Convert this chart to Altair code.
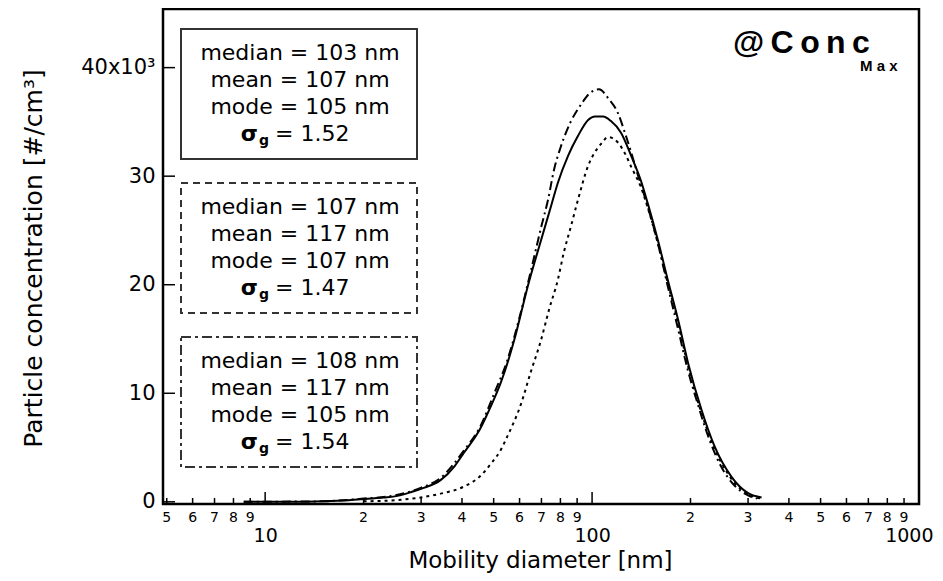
import altair as alt
import pandas as pd

# ---------------- data (concentration in 10^3 #/cm^3, diameter in nm) ----------------
solid_d = [8.6, 12, 15, 18, 20, 23, 25.4, 28, 30, 34.4, 38, 40.5, 45.6, 48, 50.2, 52.6,
           57.8, 63.5, 69.8, 75, 78.6, 84.5, 90.5, 97.4, 102, 108, 114, 122.6, 132, 141,
           148, 159, 170.6, 183.2, 196.6, 216, 237, 267, 300, 330]
solid_c = [0.0, 0.0, 0.05, 0.15, 0.25, 0.4, 0.55, 0.9, 1.2, 2.0, 3.3, 4.5, 6.8, 8.2, 9.5, 11.0,
           14.9, 19.8, 24.1, 27.3, 29.4, 31.9, 33.7, 35.2, 35.5, 35.5, 35.1, 34.0, 31.8, 29.6,
           27.5, 24.1, 20.4, 16.8, 12.8, 8.5, 5.1, 2.3, 0.8, 0.4]

dashdot_d = [8.6, 15, 20, 25, 30, 34.4, 40.5, 45.6, 50.2, 55, 60, 65, 70, 73.3, 76.5, 80, 86,
             92.5, 98, 105, 112.5, 120, 126, 132, 136.5, 148, 159, 170, 183, 196, 208.6, 230,
             248.7, 272.7, 300, 320]
dashdot_c = [0.0, 0.05, 0.3, 0.6, 1.3, 2.2, 4.7, 7.0, 10.0, 13.0, 17.0, 21.3, 25.4, 27.8, 30.6,
             32.6, 35.0, 36.6, 37.6, 38.0, 37.1, 35.8, 34.0, 32.1, 30.6, 27.2, 23.8, 20.0, 16.0,
             12.2, 9.4, 5.5, 3.2, 1.5, 0.6, 0.3]

dotted_d = [20, 25, 29.9, 35, 40.5, 45.6, 49, 52.6, 55, 60.6, 65, 69.8, 74, 78.5, 82, 86.2,
            90.5, 97.4, 101.5, 106.7, 112, 120, 126, 132, 141, 148, 159, 170.6, 183.2, 196.6,
            216, 237, 267, 300, 330]
dotted_c = [0.05, 0.15, 0.4, 0.8, 1.4, 2.4, 3.5, 4.8, 6.0, 9.0, 12.0, 14.9, 17.8, 20.4, 23.0,
            25.4, 27.8, 31.0, 32.1, 33.0, 33.6, 33.1, 32.1, 30.8, 29.0, 27.1, 23.8, 20.1, 16.5,
            12.5, 8.2, 4.9, 2.1, 0.7, 0.3]

box_median = [103, 107, 108]
box_mean = [107, 117, 117]
box_mode = [105, 107, 105]
box_sigma = ["1.52", "1.47", "1.54"]

x_major = [10, 100, 1000]
x_minor = [5, 6, 7, 8, 9, 20, 30, 40, 50, 60, 70, 80, 90,
           200, 300, 400, 500, 600, 700, 800, 900]
x_minor_labels = ["5", "6", "7", "8", "9", "2", "3", "4", "5", "6", "7", "8", "9",
                  "2", "3", "4", "5", "6", "7", "8", "9"]
y_major = [0, 10, 20, 30, 40]

# ---------------- layout ----------------
W, H = 756, 495
X_DOMAIN = [4.87, 1000]
Y_DOMAIN = [-0.2, 45.4]
FONT = "DejaVu Sans"

xscale = alt.Scale(type="log", domain=X_DOMAIN, nice=False)
yscale = alt.Scale(domain=Y_DOMAIN, nice=False, zero=False)

curves = pd.concat([
    pd.DataFrame({"d": solid_d, "c": solid_c, "s": "solid"}),
    pd.DataFrame({"d": dashdot_d, "c": dashdot_c, "s": "dashdot"}),
    pd.DataFrame({"d": dotted_d, "c": dotted_c, "s": "dotted"}),
])

x_axis = alt.Axis(values=x_major, format="d", ticks=False, domain=False, grid=False,
                  labelFont=FONT, labelFontSize=19, labelColor="black", labelPadding=22,
                  labelBaseline="top", labelFlush=1, labelFlushOffset=14, labelOverlap=False,
                  title="Mobility diameter [nm]", titleFont=FONT, titleFontSize=23,
                  titleFontWeight="normal", titleColor="black", titleX=377, titleY=63,
                  titleBaseline="alphabetic")
y_axis = alt.Axis(values=y_major, ticks=False, domain=False, grid=False,
                  labelExpr="datum.value == 40 ? '40x10³' : datum.label",
                  labelFont=FONT, labelFontSize=21, labelColor="black", labelPadding=8,
                  labelBaseline="middle",
                  title="Particle concentration [#/cm³]", titleFont=FONT, titleFontSize=25,
                  titleFontWeight="normal", titleColor="black", titleX=-130, titleY=249,
                  titleBaseline="middle")


def X(field):
    return alt.X(field, scale=xscale, axis=x_axis, title="Mobility diameter [nm]")


def Y(field):
    return alt.Y(field, scale=yscale, axis=y_axis, title="Particle concentration [#/cm³]")


styles = [("solid", None), ("dashdot", [9, 4, 2, 4]), ("dotted", [3, 4])]
layers = []
for name, dash in styles:
    kw = {"strokeDash": dash} if dash else {}
    layers.append(
        alt.Chart(curves).transform_filter(alt.datum.s == name)
        .mark_line(color="black", strokeWidth=2, interpolate="monotone", **kw)
        .encode(x=X("d:Q"), y=Y("c:Q"), order="d:Q")
    )

# inward ticks
layers.append(alt.Chart(pd.DataFrame({"d": x_major})).mark_rule(color="black", strokeWidth=1.5)
              .encode(x=X("d:Q"), y=alt.value(H), y2=alt.value(H - 12)))
layers.append(alt.Chart(pd.DataFrame({"d": x_minor})).mark_rule(color="black", strokeWidth=1.5)
              .encode(x=X("d:Q"), y=alt.value(H), y2=alt.value(H - 6)))
layers.append(alt.Chart(pd.DataFrame({"c": y_major})).mark_rule(color="black", strokeWidth=1.5)
              .encode(y=Y("c:Q"), x=alt.value(0), x2=alt.value(12)))
# minor tick labels
layers.append(alt.Chart(pd.DataFrame({"d": x_minor, "lab": x_minor_labels}))
              .mark_text(font=FONT, fontSize=14, color="black", baseline="middle", align="center")
              .encode(x=X("d:Q"), y=alt.value(H + 14), text="lab:N"))

one = alt.Data(values=[{"k": 0}])

# statistic boxes
BOX_L, BOX_R = 18, 254
BOX_TOPS = [20, 174, 328]
BOX_H = 130
BOX_DASH = [None, [7, 5], [10, 4, 3, 4]]
LINE_OFF = [24, 51, 78, 105]
TX = 137
for b in range(3):
    top = BOX_TOPS[b]
    kw = {"strokeDash": BOX_DASH[b]} if BOX_DASH[b] else {}
    layers.append(alt.Chart(one).mark_rect(fill=None, fillOpacity=0, stroke="#333333", strokeWidth=2, **kw)
                  .encode(x=alt.value(BOX_L), x2=alt.value(BOX_R), y=alt.value(top), y2=alt.value(top + BOX_H)))
    lines = [f"median = {box_median[b]} nm", f"mean = {box_mean[b]} nm", f"mode = {box_mode[b]} nm"]
    for j, t in enumerate(lines):
        layers.append(alt.Chart(one).mark_text(font=FONT, fontSize=22, color="black",
                                               align="center", baseline="middle")
                      .encode(x=alt.value(TX), y=alt.value(top + LINE_OFF[j]), text=alt.value(t)))
    ys = top + LINE_OFF[3]
    layers.append(alt.Chart(one).mark_text(font=FONT, fontSize=22, fontWeight="bold", color="black",
                                           align="right", baseline="middle")
                  .encode(x=alt.value(95), y=alt.value(ys), text=alt.value("σ")))
    layers.append(alt.Chart(one).mark_text(font=FONT, fontSize=14, fontWeight="bold", color="black",
                                           align="left", baseline="middle")
                  .encode(x=alt.value(96), y=alt.value(ys + 7), text=alt.value("g")))
    layers.append(alt.Chart(one).mark_text(font=FONT, fontSize=22, color="black",
                                           align="left", baseline="middle")
                  .encode(x=alt.value(112), y=alt.value(ys), text=alt.value(f"= {box_sigma[b]}")))

# @Conc_Max label
layers.append(alt.Chart(one).mark_text(font="Liberation Sans", fontSize=32, fontWeight="bold",
                                       color="black", align="left", baseline="middle")
              .encode(x=alt.value(570), y=alt.value(34), text=alt.value("@\u2009C\u2009o\u2009n\u2009c")))
layers.append(alt.Chart(one).mark_text(font="Liberation Sans", fontSize=15, fontWeight="bold",
                                       color="black", align="left", baseline="middle")
              .encode(x=alt.value(697), y=alt.value(57), text=alt.value("M a x")))

chart = alt.layer(*layers).properties(
    width=W, height=H,
    autosize=alt.AutoSizeParams(type="none"),
    padding={"left": 155, "top": 1, "right": 16, "bottom": 69},
    background="white",
).configure_view(stroke="black", strokeWidth=2.5)

chart.save("out.html", embed_options={"renderer": "svg", "actions": False})
